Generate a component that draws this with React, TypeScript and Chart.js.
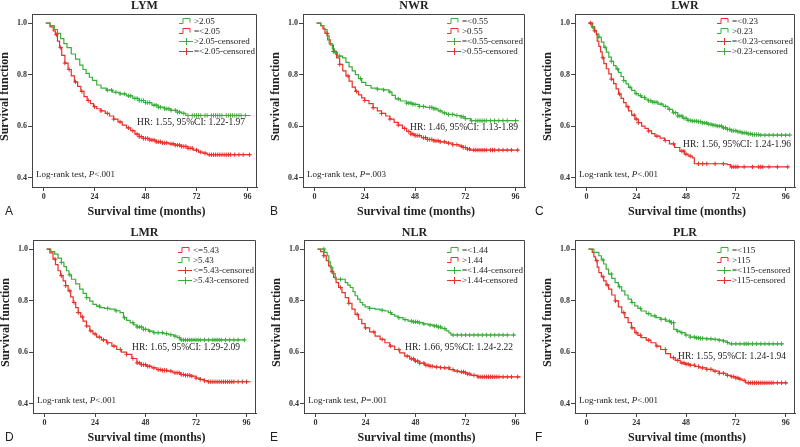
import { useEffect, useRef } from 'react';
import { Chart, registerables } from 'chart.js';
Chart.register(...registerables);

const SERIF = '"Liberation Serif", "DejaVu Serif", serif';
const SANS = '"Liberation Sans", Arial, sans-serif';
const GREEN = '#3aae3a';
const RED = '#e8312a';

const xTicks = [0, 24, 48, 72, 96];
const yTicks = [0.4, 0.6, 0.8, 1.0];

// ---------- Panel A: LYM ----------
const lymHighTime = [1, 3, 5, 6.5, 8, 9.5, 11, 13, 15, 17, 18.5, 20, 21.5, 23, 25, 27, 29.5, 32.5, 36, 39, 42, 45, 48, 51, 54, 57, 60, 63, 65, 67, 97.5];
const lymHighSurv = [1.0, 0.99, 0.975, 0.96, 0.94, 0.92, 0.905, 0.88, 0.86, 0.837, 0.82, 0.805, 0.79, 0.778, 0.76, 0.748, 0.74, 0.732, 0.726, 0.718, 0.708, 0.7, 0.692, 0.682, 0.674, 0.668, 0.662, 0.655, 0.65, 0.642, 0.642];
const lymHighCensor = [30, 32, 34, 36, 38, 40, 41, 43, 44, 45, 46, 47, 48, 49, 50, 52, 53, 54, 55, 57, 58, 59, 60, 62, 63, 64, 66, 68, 70, 71, 72, 73, 74, 76, 77, 79, 80, 81, 82, 83, 84, 86, 87, 88, 89, 90, 91, 92, 93, 95];
const lymLowTime = [1, 3, 4.5, 5.5, 6.5, 7.5, 8.5, 10, 11.5, 13, 14.5, 16, 17.5, 19, 20.5, 22, 23.5, 25, 27, 29, 31, 33, 35, 37, 39, 41, 43, 45, 47, 50, 53, 56, 59, 62, 65, 68, 70.5, 73, 75, 77, 97.5];
const lymLowSurv = [1.0, 0.985, 0.97, 0.955, 0.93, 0.905, 0.875, 0.845, 0.82, 0.795, 0.772, 0.755, 0.735, 0.715, 0.7, 0.688, 0.676, 0.668, 0.66, 0.65, 0.64, 0.628, 0.617, 0.605, 0.594, 0.583, 0.57, 0.56, 0.553, 0.547, 0.54, 0.536, 0.532, 0.527, 0.522, 0.515, 0.508, 0.5, 0.496, 0.49, 0.49];
const lymLowCensor = [6, 8, 10, 12, 15, 18, 21, 24, 27, 30, 33, 36, 40, 42, 44, 45, 46, 47, 48, 49, 50, 51, 52, 53, 54, 55, 56, 57, 58, 60, 61, 62, 63, 64, 65, 66, 67, 68, 69, 70, 72, 74, 76, 78, 79, 80, 81, 82, 83, 84, 85, 86, 87, 88, 90, 92, 94, 97];

// ---------- Panel B: NWR ----------
const nwrLowTime = [1, 3, 4.5, 6, 7, 8.5, 9.5, 11, 13.4, 15, 16.5, 18, 19.5, 21, 22.5, 24.5, 27, 30, 33, 35.5, 37, 38.6, 41, 44, 47, 50, 53, 57, 59, 61, 63, 67, 70, 72, 74.5, 97.5];
const nwrLowSurv = [1.0, 0.99, 0.975, 0.95, 0.92, 0.9, 0.885, 0.872, 0.865, 0.848, 0.83, 0.815, 0.8, 0.785, 0.77, 0.758, 0.748, 0.744, 0.741, 0.733, 0.72, 0.706, 0.698, 0.69, 0.685, 0.677, 0.673, 0.668, 0.66, 0.652, 0.646, 0.642, 0.637, 0.63, 0.622, 0.622];
const nwrLowCensor = [10, 12, 22, 30, 33, 36, 40, 44, 45, 46, 47, 48, 50, 52, 55, 56, 57, 58, 60, 62, 64, 66, 68, 70, 71, 72, 75, 77, 78, 79, 80, 81, 82, 84, 86, 88, 90, 92, 96];
const nwrHighTime = [1, 3, 4, 5, 6.3, 7.5, 9, 10.5, 12, 13.5, 15, 16.5, 18, 19.5, 21, 22.5, 24, 26, 28, 30, 32, 34, 36, 38, 40, 42, 44, 46, 48, 51, 54, 57, 60, 63, 66, 69, 71, 73, 74.5, 97.5];
const nwrHighSurv = [1.0, 0.99, 0.978, 0.96, 0.935, 0.915, 0.89, 0.865, 0.84, 0.815, 0.795, 0.775, 0.752, 0.735, 0.722, 0.71, 0.7, 0.688, 0.672, 0.66, 0.65, 0.64, 0.628, 0.615, 0.605, 0.592, 0.58, 0.57, 0.564, 0.556, 0.549, 0.544, 0.54, 0.535, 0.529, 0.523, 0.518, 0.512, 0.508, 0.508];
const nwrHighCensor = [6, 9, 12, 16, 20, 24, 28, 32, 36, 40, 43, 45, 46, 47, 48, 49, 50, 52, 53, 54, 55, 56, 57, 58, 59, 60, 62, 64, 66, 68, 70, 71, 72, 73, 74, 76, 77, 78, 79, 80, 81, 82, 84, 85, 86, 88, 90, 92, 94, 97];

// ---------- Panel C: LWR ----------
const lwrLowTime = [1, 3, 4, 4.8, 5.2, 6, 6.8, 7.6, 8.4, 9.6, 10.8, 12, 13.1, 14.3, 15.5, 16.7, 17.9, 19.1, 20.3, 21.8, 23.4, 25, 26.6, 28.2, 29.8, 31.4, 33, 35.5, 37.7, 40, 42.5, 45, 47.2, 49, 51, 52, 67.8, 69.4, 97.5];
const lwrLowSurv = [1.0, 0.985, 0.97, 0.955, 0.93, 0.91, 0.888, 0.865, 0.843, 0.823, 0.803, 0.783, 0.765, 0.745, 0.725, 0.708, 0.692, 0.676, 0.66, 0.643, 0.628, 0.614, 0.601, 0.592, 0.582, 0.572, 0.562, 0.554, 0.545, 0.532, 0.518, 0.504, 0.492, 0.485, 0.478, 0.455, 0.452, 0.443, 0.443];
const lwrLowCensor = [2, 4, 8, 12, 16, 20, 23, 24, 25, 30, 34, 38, 42, 46, 47, 48, 50, 54, 56, 58, 62, 66, 70, 71, 72, 73, 76, 80, 83, 84, 85, 88, 92, 97];
const lwrHighTime = [1, 2.5, 3.6, 4.8, 6, 7.2, 8.4, 9.6, 10.8, 12, 13.1, 14.3, 15.5, 16.7, 17.9, 19.1, 20.3, 21.8, 23.4, 25, 26.6, 28.2, 29.8, 32, 34.5, 37, 39.3, 41.5, 44, 46.4, 48.8, 51, 53.5, 56, 58.3, 61, 63, 65.5, 67.8, 70, 72.6, 75, 77.3, 80, 83.6, 98];
const lwrHighSurv = [1.0, 0.985, 0.97, 0.958, 0.945, 0.926, 0.906, 0.887, 0.868, 0.852, 0.835, 0.822, 0.809, 0.793, 0.777, 0.764, 0.751, 0.739, 0.727, 0.719, 0.712, 0.705, 0.699, 0.693, 0.686, 0.677, 0.666, 0.653, 0.64, 0.631, 0.623, 0.62, 0.618, 0.613, 0.608, 0.604, 0.601, 0.594, 0.588, 0.583, 0.579, 0.575, 0.571, 0.568, 0.566, 0.566];
const lwrHighCensor = [3, 6, 9, 12, 15, 18, 21, 24, 26, 28, 30, 31, 32, 33, 34, 36, 38, 40, 42, 43, 44, 45, 46, 47, 48, 49, 50, 51, 52, 53, 54, 55, 56, 57, 58, 59, 60, 61, 62, 63, 64, 65, 66, 67, 68, 69, 70, 71, 72, 73, 74, 75, 76, 77, 78, 79, 80, 81, 82, 83, 84, 86, 88, 90, 92, 94, 96, 98];

// ---------- Panel D: LMR ----------
const lmrLowTime = [1, 2.5, 4, 5.2, 6.4, 7.6, 8.8, 10, 11.2, 12.4, 13.6, 14.8, 16, 17.2, 18.3, 19.9, 21.5, 23, 24.7, 27, 29.5, 32, 34.3, 36.5, 39, 41.5, 43.9, 46, 48.6, 51, 53.4, 56, 58.2, 61, 64.6, 67, 69.4, 72, 74, 76, 77.4, 98];
const lmrLowSurv = [1.0, 0.985, 0.961, 0.94, 0.916, 0.897, 0.877, 0.858, 0.838, 0.815, 0.793, 0.773, 0.754, 0.737, 0.721, 0.702, 0.683, 0.671, 0.659, 0.648, 0.637, 0.624, 0.611, 0.601, 0.592, 0.576, 0.559, 0.552, 0.546, 0.54, 0.533, 0.53, 0.527, 0.521, 0.514, 0.511, 0.508, 0.5, 0.495, 0.49, 0.486, 0.486];
const lmrLowCensor = [5, 8, 10, 12, 14, 16, 18, 20, 22, 24, 26, 28, 30, 33, 36, 39, 42, 44, 45, 46, 47, 48, 49, 50, 52, 54, 55, 56, 57, 58, 60, 62, 63, 64, 65, 66, 67, 68, 69, 70, 72, 74, 76, 78, 79, 80, 81, 82, 83, 84, 85, 86, 87, 88, 89, 90, 92, 94, 96];
const lmrHighTime = [1, 3, 4.8, 6.4, 8, 9.2, 10.4, 11.6, 12.8, 14.8, 16.7, 18.3, 19.9, 21.5, 23, 24.7, 26.3, 28.5, 31, 33.5, 35.9, 37.5, 39, 40.7, 42.3, 43.9, 47, 49.4, 51.8, 56.6, 59, 61.4, 63, 64.6, 95];
const lmrHighSurv = [1.0, 0.99, 0.98, 0.965, 0.948, 0.932, 0.916, 0.9, 0.883, 0.865, 0.845, 0.828, 0.812, 0.798, 0.786, 0.779, 0.773, 0.77, 0.767, 0.761, 0.754, 0.734, 0.724, 0.715, 0.706, 0.698, 0.689, 0.682, 0.676, 0.672, 0.668, 0.663, 0.657, 0.648, 0.648];
const lmrHighCensor = [8, 12, 20, 26, 30, 34, 38, 42, 44, 45, 46, 47, 48, 50, 52, 54, 56, 58, 60, 62, 64, 65, 66, 67, 68, 69, 70, 71, 72, 73, 74, 76, 78, 80, 81, 82, 83, 84, 86, 88, 90, 92, 95];

// ---------- Panel E: NLR ----------
const nlrLowTime = [1, 4.4, 5.6, 6.4, 7.1, 8.3, 9.5, 13.5, 14.3, 15.5, 16.7, 18, 19, 20.2, 21.4, 22.6, 23.8, 26, 28.6, 31, 33.3, 35, 36.5, 38, 39.7, 42, 44.4, 46.8, 49.2, 51.6, 54, 56.5, 58.7, 60.7, 62.7, 64, 65, 96];
const nlrLowSurv = [1.0, 0.987, 0.974, 0.95, 0.929, 0.905, 0.883, 0.883, 0.87, 0.86, 0.851, 0.835, 0.819, 0.806, 0.793, 0.784, 0.776, 0.77, 0.767, 0.763, 0.76, 0.754, 0.747, 0.74, 0.734, 0.727, 0.721, 0.718, 0.715, 0.71, 0.706, 0.702, 0.698, 0.692, 0.683, 0.675, 0.667, 0.667];
const nlrLowCensor = [4, 12, 26, 32, 36, 40, 43, 46, 47, 48, 49, 50, 52, 55, 57, 58, 59, 60, 62, 66, 68, 70, 72, 74, 76, 78, 80, 82, 84, 86, 88, 90, 92, 95];
const nlrHighTime = [1, 2.5, 4, 5.2, 6.3, 7.5, 8.7, 9.9, 11.1, 12.7, 14.3, 15.9, 17.5, 19, 20.6, 22.2, 23.8, 26, 28.6, 31, 33.3, 35.6, 38, 40.4, 42.8, 45.2, 47.6, 50, 52.4, 54.7, 57, 59.5, 61.9, 64.2, 66.6, 69, 71.4, 73, 74.6, 77.8, 98.4];
const nlrHighSurv = [1.0, 0.99, 0.974, 0.955, 0.935, 0.912, 0.89, 0.87, 0.851, 0.831, 0.812, 0.79, 0.767, 0.747, 0.728, 0.711, 0.695, 0.679, 0.663, 0.65, 0.637, 0.624, 0.611, 0.598, 0.585, 0.575, 0.566, 0.558, 0.55, 0.546, 0.543, 0.541, 0.54, 0.533, 0.527, 0.524, 0.521, 0.516, 0.511, 0.505, 0.505];
const nlrHighCensor = [4, 8, 12, 16, 20, 24, 28, 32, 36, 40, 44, 46, 47, 48, 49, 50, 52, 53, 54, 55, 56, 58, 60, 62, 64, 66, 68, 70, 71, 72, 73, 74, 76, 78, 79, 80, 81, 82, 83, 84, 85, 86, 87, 88, 90, 92, 94, 97];

// ---------- Panel F: PLR ----------
const plrLowTime = [1, 3.6, 6, 7.2, 8.3, 9.5, 10.7, 12.2, 13.8, 15.4, 17, 18.5, 20.1, 21.7, 23.3, 24.8, 26.4, 28.8, 31.1, 33.5, 35.8, 38.2, 40.5, 42.1, 43.6, 45.2, 47.6, 50, 52.4, 54.7, 58, 61, 63.4, 65.7, 67.3, 68.8, 95];
const plrLowSurv = [1.0, 0.987, 0.974, 0.958, 0.942, 0.922, 0.903, 0.886, 0.87, 0.854, 0.838, 0.822, 0.806, 0.793, 0.78, 0.77, 0.76, 0.75, 0.741, 0.734, 0.728, 0.721, 0.715, 0.689, 0.682, 0.676, 0.667, 0.659, 0.656, 0.654, 0.652, 0.65, 0.647, 0.644, 0.638, 0.633, 0.633];
const plrLowCensor = [8, 12, 16, 22, 26, 30, 33, 36, 38, 40, 41, 42, 44, 46, 48, 50, 52, 53, 54, 55, 56, 58, 60, 62, 64, 66, 68, 70, 72, 74, 76, 77, 78, 80, 82, 84, 86, 88, 90, 92, 94];
const plrHighTime = [1, 2.8, 3.6, 4.4, 5.2, 6, 7.2, 8.3, 9.5, 10.7, 12.2, 13.8, 15.4, 17, 18.5, 20.1, 21.7, 23.3, 24.8, 26.4, 28.8, 31.1, 33.5, 35.8, 38.2, 40.5, 42.8, 45.2, 47.6, 50, 52.4, 54.7, 57.8, 61, 64, 67.2, 69.5, 71.9, 73.5, 75, 76.7, 97];
const plrHighSurv = [1.0, 0.987, 0.97, 0.955, 0.93, 0.909, 0.893, 0.877, 0.861, 0.845, 0.822, 0.799, 0.776, 0.754, 0.734, 0.715, 0.695, 0.676, 0.666, 0.657, 0.647, 0.637, 0.624, 0.611, 0.595, 0.579, 0.569, 0.559, 0.554, 0.55, 0.545, 0.54, 0.534, 0.527, 0.519, 0.511, 0.506, 0.501, 0.496, 0.491, 0.482, 0.482];
const plrHighCensor = [5, 8, 10, 14, 18, 22, 24, 26, 30, 34, 38, 42, 44, 46, 47, 48, 49, 50, 52, 54, 56, 58, 60, 62, 64, 66, 68, 70, 71, 72, 73, 74, 76, 78, 79, 80, 81, 82, 83, 84, 85, 86, 87, 88, 89, 90, 92, 94, 96];

type Series = { time: number[]; surv: number[]; censor: number[]; color: string; label: string };
type Panel = {
  letter: string; title: string; col: number; row: number;
  boxL: number; boxR: number; boxT: number; boxB: number;
  s1: Series; s2: Series; hr: string; hrY: number; hrRight: number; pText: string; legendTop: number;
};

const COLX = [0, 265, 530];
const COLW = [265, 265, 270];
const ROWY = [0, 222];
const ROWH = [222, 225];

const panels: Panel[] = [
  { letter: 'A', title: 'LYM', col: 0, row: 0, boxL: 32, boxR: 257, boxT: 14, boxB: 187,
    s1: { time: lymHighTime, surv: lymHighSurv, censor: lymHighCensor, color: GREEN, label: '>2.05' },
    s2: { time: lymLowTime, surv: lymLowSurv, censor: lymLowCensor, color: RED, label: '=<2.05' },
    hr: 'HR: 1.55, 95%CI: 1.22-1.97', hrY: 0.615, hrRight: 12, pText: '<.001', legendTop: 7 },
  { letter: 'B', title: 'NWR', col: 1, row: 0, boxL: 303, boxR: 527, boxT: 14, boxB: 187,
    s1: { time: nwrLowTime, surv: nwrLowSurv, censor: nwrLowCensor, color: GREEN, label: '=<0.55' },
    s2: { time: nwrHighTime, surv: nwrHighSurv, censor: nwrHighCensor, color: RED, label: '>0.55' },
    hr: 'HR: 1.46, 95%CI: 1.13-1.89', hrY: 0.596, hrRight: 7, pText: '=.003', legendTop: 7 },
  { letter: 'C', title: 'LWR', col: 2, row: 0, boxL: 575, boxR: 797, boxT: 14, boxB: 187,
    s1: { time: lwrLowTime, surv: lwrLowSurv, censor: lwrLowCensor, color: RED, label: '=<0.23' },
    s2: { time: lwrHighTime, surv: lwrHighSurv, censor: lwrHighCensor, color: GREEN, label: '>0.23' },
    hr: 'HR: 1.56, 95%CI: 1.24-1.96', hrY: 0.53, hrRight: 4, pText: '<.001', legendTop: 7 },
  { letter: 'D', title: 'LMR', col: 0, row: 1, boxL: 33, boxR: 256, boxT: 240, boxB: 413,
    s1: { time: lmrLowTime, surv: lmrLowSurv, censor: lmrLowCensor, color: RED, label: '<=5.43' },
    s2: { time: lmrHighTime, surv: lmrHighSurv, censor: lmrHighCensor, color: GREEN, label: '>5.43' },
    hr: 'HR: 1.65, 95%CI: 1.29-2.09', hrY: 0.618, hrRight: 16, pText: '<.001', legendTop: 10 },
  { letter: 'E', title: 'NLR', col: 1, row: 1, boxL: 304, boxR: 525, boxT: 240, boxB: 413,
    s1: { time: nlrLowTime, surv: nlrLowSurv, censor: nlrLowCensor, color: GREEN, label: '=<1.44' },
    s2: { time: nlrHighTime, surv: nlrHighSurv, censor: nlrHighCensor, color: RED, label: '>1.44' },
    hr: 'HR: 1.66, 95%CI: 1.24-2.22', hrY: 0.618, hrRight: 12, pText: '=.001', legendTop: 10 },
  { letter: 'F', title: 'PLR', col: 2, row: 1, boxL: 575, boxR: 797, boxT: 240, boxB: 413,
    s1: { time: plrLowTime, surv: plrLowSurv, censor: plrLowCensor, color: GREEN, label: '=<115' },
    s2: { time: plrHighTime, surv: plrHighSurv, censor: plrHighCensor, color: RED, label: '>115' },
    hr: 'HR: 1.55, 95%CI: 1.24-1.94', hrY: 0.585, hrRight: 9, pText: '<.001', legendTop: 10 },
];

function survAt(s: Series, t: number) {
  let v = s.surv[0];
  for (let i = 0; i < s.time.length; i++) if (s.time[i] <= t) v = s.surv[i];
  return v;
}

function lineDs(s: Series) {
  return {
    type: 'line', data: s.time.map((t, i) => ({ x: t, y: s.surv[i] })),
    borderColor: s.color, borderWidth: 1.2, pointRadius: 0, stepped: 'before', fill: false, order: 2,
  };
}
function censorDs(s: Series) {
  return {
    type: 'line', showLine: false, data: s.censor.map((t) => ({ x: t, y: survAt(s, t) })),
    borderColor: s.color, backgroundColor: s.color, pointStyle: 'cross', pointRadius: 2.2, borderWidth: 1, order: 1,
  };
}

function makePlugin(p: Panel) {
  return {
    id: 'panelText' + p.letter,
    afterDraw(chart: any) {
      const ctx = chart.ctx as CanvasRenderingContext2D;
      const ca = chart.chartArea;
      ctx.save();
      // box top/right
      ctx.strokeStyle = '#444'; ctx.lineWidth = 1;
      ctx.beginPath();
      ctx.moveTo(ca.left, ca.top + 0.5); ctx.lineTo(ca.right - 0.5, ca.top + 0.5); ctx.lineTo(ca.right - 0.5, ca.bottom);
      ctx.stroke();
      ctx.fillStyle = '#222';
      ctx.textBaseline = 'middle';
      // title
      ctx.font = `bold 12px ${SERIF}`; ctx.textAlign = 'center';
      ctx.fillText(p.title, (ca.left + ca.right) / 2, p.row === 0 ? 6 : 11);
      // x title
      ctx.fillText('Survival time (months)', (ca.left + ca.right) / 2 + 2, ca.bottom + 25);
      // y title
      ctx.save();
      ctx.translate(ca.left - 27, (ca.top + ca.bottom) / 2 - 4);
      ctx.rotate(-Math.PI / 2);
      ctx.fillText('Survival function', 0, 0);
      ctx.restore();
      // letter
      ctx.font = `12px ${SANS}`; ctx.textAlign = 'left';
      ctx.fillText(p.letter, 5, ca.bottom + 25);
      // HR
      ctx.font = `9.5px ${SERIF}`; ctx.textAlign = 'right';
      ctx.fillText(p.hr, ca.right - p.hrRight, chart.scales.y.getPixelForValue(p.hrY));
      // log-rank
      ctx.textAlign = 'left';
      ctx.font = `9px ${SERIF}`;
      let x = ca.left + 4; const ly = ca.bottom - 12;
      const a = 'Log-rank test, ';
      ctx.fillText(a, x, ly); x += ctx.measureText(a).width;
      ctx.font = `italic 9px ${SERIF}`;
      ctx.fillText('P', x, ly); x += ctx.measureText('P').width;
      ctx.font = `9px ${SERIF}`;
      ctx.fillText(p.pText, x, ly);
      // legend
      const entries = [
        { s: p.s1, cens: false, text: p.s1.label },
        { s: p.s2, cens: false, text: p.s2.label },
        { s: p.s1, cens: true, text: p.s1.label + '-censored' },
        { s: p.s2, cens: true, text: p.s2.label + '-censored' },
      ];
      entries.forEach((e, i) => {
        const y = ca.top + p.legendTop + i * 10;
        const x0 = ca.right - 78;
        ctx.strokeStyle = e.s.color; ctx.lineWidth = 1;
        ctx.beginPath();
        if (!e.cens) {
          ctx.moveTo(x0, y + 2.5); ctx.lineTo(x0 + 4, y + 2.5); ctx.lineTo(x0 + 4, y - 2.5);
          ctx.lineTo(x0 + 11, y - 2.5); ctx.lineTo(x0 + 11, y + 1.5);
        } else {
          ctx.moveTo(x0, y + 0.5); ctx.lineTo(x0 + 14, y + 0.5);
          ctx.moveTo(x0 + 7.5, y - 3); ctx.lineTo(x0 + 7.5, y + 4);
        }
        ctx.stroke();
        ctx.fillStyle = '#222'; ctx.font = `9px ${SERIF}`; ctx.textAlign = 'left';
        ctx.fillText(e.text, ca.right - 63, y + 0.5);
      });
      ctx.restore();
    },
  };
}

function PanelChart({ p }: { p: Panel }) {
  const ref = useRef<HTMLCanvasElement>(null);
  const x0 = COLX[p.col], w = COLW[p.col], y0 = ROWY[p.row], h = ROWH[p.row];
  useEffect(() => {
    if (!ref.current) return;
    const tickFont = { family: SERIF, size: 8, weight: 'bold' as const };
    const chart = new Chart(ref.current, {
      type: 'line',
      data: { datasets: [lineDs(p.s1), lineDs(p.s2), censorDs(p.s1), censorDs(p.s2)] as any },
      options: {
        animation: false, responsive: false, maintainAspectRatio: false,
        layout: { padding: { left: 0, right: x0 + w - p.boxR, top: p.boxT - y0, bottom: 0 } },
        plugins: { legend: { display: false }, tooltip: { enabled: false }, title: { display: false } },
        scales: {
          x: {
            type: 'linear', min: -5.5, max: 100.5,
            afterBuildTicks: (s: any) => { s.ticks = xTicks.map((v) => ({ value: v })); },
            afterFit: (s: any) => { s.height = y0 + h - p.boxB; },
            ticks: { font: tickFont, color: '#333', padding: 1, maxRotation: 0, autoSkip: false },
            grid: { drawOnChartArea: false, drawTicks: true, tickLength: 4, color: '#444' },
            border: { display: true, color: '#444' },
          },
          y: {
            type: 'linear', min: 0.365, max: 1.035,
            afterBuildTicks: (s: any) => { s.ticks = yTicks.map((v) => ({ value: v })); },
            afterFit: (s: any) => { s.width = p.boxL - x0; },
            ticks: { font: tickFont, color: '#333', padding: 1, callback: (v: any) => Number(v).toFixed(1) },
            grid: { drawOnChartArea: false, drawTicks: true, tickLength: 4, color: '#444' },
            border: { display: true, color: '#444' },
          },
        },
      } as any,
      plugins: [makePlugin(p)],
    });
    return () => chart.destroy();
  }, []);
  return (
    <canvas ref={ref} width={w} height={h}
      style={{ position: 'absolute', left: x0, top: y0, width: w, height: h }} />
  );
}

export default function App() {
  return (
    <div style={{ position: 'absolute', left: 0, top: 0, width: 800, height: 447, background: '#fff', overflow: 'hidden' }}>
      {panels.map((p) => <PanelChart key={p.letter} p={p} />)}
    </div>
  );
}
